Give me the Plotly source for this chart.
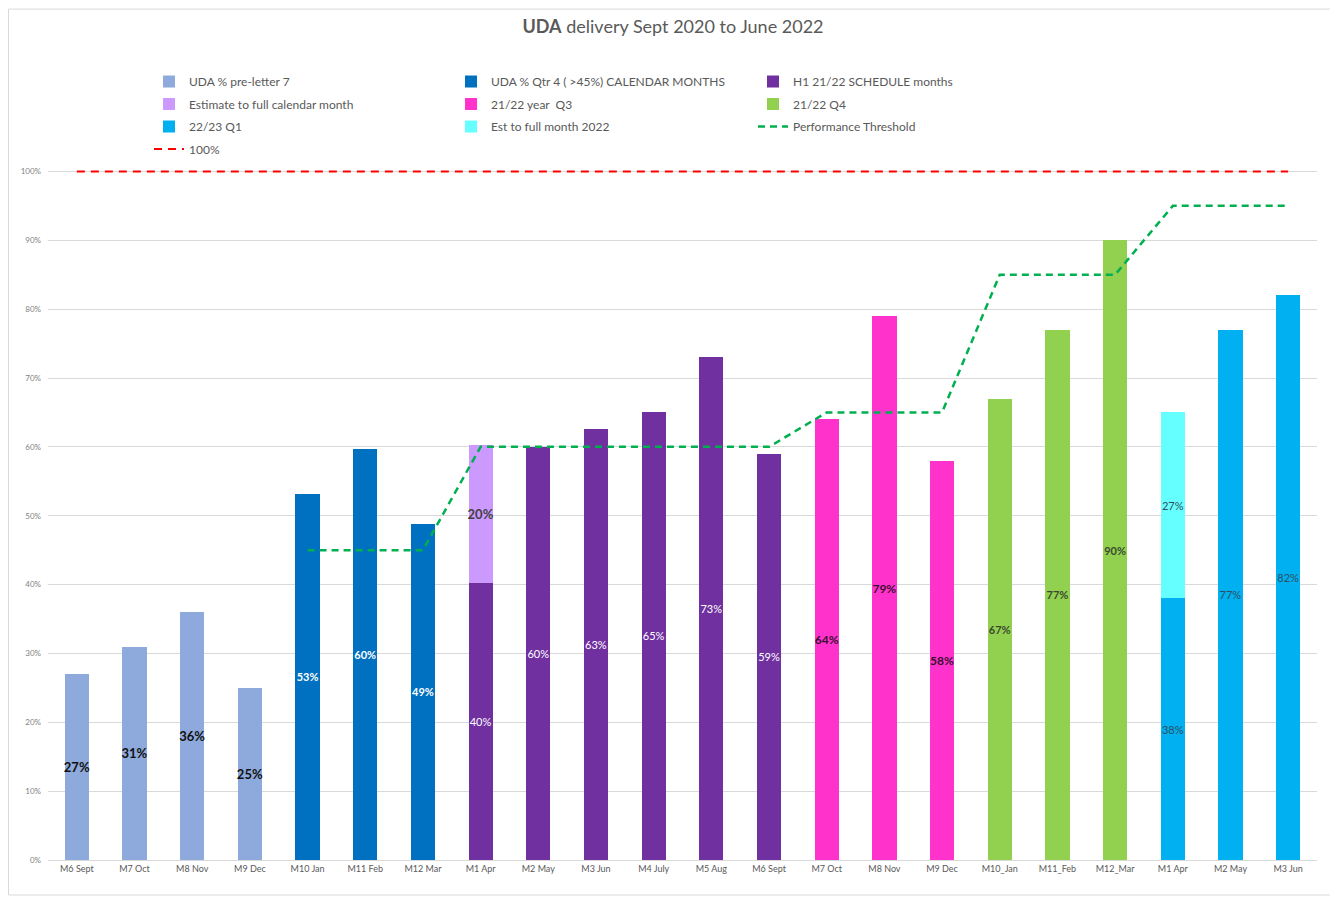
import plotly.graph_objects as go

categories = ["M6 Sept", "M7 Oct", "M8 Nov", "M9 Dec", "M10 Jan", "M11 Feb", "M12 Mar",
              "M1 Apr", "M2 May", "M3 Jun", "M4 July", "M5 Aug", "M6 Sept",
              "M7 Oct", "M8 Nov", "M9 Dec", "M10_Jan", "M11_Feb", "M12_Mar",
              "M1 Apr", "M2 May", "M3 Jun"]
xpos = list(range(len(categories)))

pre_letter7 = [27, 31, 36, 25]
qtr4 = [53.2, 59.7, 48.8]
h1_schedule = [40.3, 60, 62.6, 65.1, 73, 59]
estimate_full = [20]
q3_2122 = [64, 79, 58]
q4_2122 = [67, 77, 90]
q1_2223 = [38, 77, 82]
est_2022 = [27]
threshold = [None, None, None, None, 45, 45, 45, 60, 60, 60, 60, 60, 60,
             65, 65, 65, 85, 85, 85, 95, 95, 95]
hundred = [100] * len(categories)

FONT = "Lato"
fig = go.Figure()

def bar(name, xs, ys, color, tcolor, tsize, bold, legend, group):
    tmpl = "<b>%{y:.0f}%</b>" if bold else "%{y:.0f}%"
    fig.add_trace(go.Bar(
        name=name, x=xs, y=ys, marker=dict(color=color, line=dict(width=0)),
        width=0.42, texttemplate=tmpl, textposition="inside",
        insidetextanchor="middle", textangle=0, constraintext="none",
        textfont=dict(color=tcolor, size=tsize, family=FONT),
        legend=legend, legendgroup=group, hoverinfo="skip"))

# trace order sets stacking order (bottom first)
bar("UDA % pre-letter 7", xpos[0:4], pre_letter7, "#8EA9DB", "#111111", 13, True, "legend", "a")
bar("UDA % Qtr 4 ( >45%) CALENDAR MONTHS", xpos[4:7], qtr4, "#0070C0", "#FFFFFF", 11, True, "legend2", "d")
bar("H1 21/22 SCHEDULE months", xpos[7:13], h1_schedule, "#7030A0", "#FFFFFF", 11, False, "legend3", "g")
bar("Estimate to full calendar month", xpos[7:8], estimate_full, "#CC99FF", "#404040", 13, True, "legend", "b")
bar("21/22 year  Q3", xpos[13:16], q3_2122, "#FF33CC", "#3A1030", 12, True, "legend2", "e")
bar("21/22 Q4", xpos[16:19], q4_2122, "#92D050", "#3A4A30", 11, True, "legend3", "h")
bar("22/23 Q1", xpos[19:22], q1_2223, "#00B0F0", "#2F4F5F", 11, False, "legend", "c")
bar("Est to full month 2022", xpos[19:20], est_2022, "#66FFFF", "#2F4F5F", 11, False, "legend2", "f")

fig.add_trace(go.Scatter(name="Performance Threshold", x=xpos, y=threshold, mode="lines",
                         line=dict(color="#00B050", width=2.5, dash="7px,5px"),
                         legend="legend3", legendgroup="i", hoverinfo="skip"))
fig.add_trace(go.Scatter(name="100%", x=xpos, y=hundred, mode="lines",
                         line=dict(color="#FF0000", width=2, dash="8px,6px"),
                         legend="legend", legendgroup="j", hoverinfo="skip"))

leg_common = dict(orientation="v", yanchor="top", xanchor="left", traceorder="grouped",
                  tracegroupgap=3.5, font=dict(family=FONT, size=12, color="#595959"),
                  bgcolor="rgba(0,0,0,0)", itemclick=False)

# page body adds an 8px margin, so the figure is 8px smaller than the window
YMAX = 100.5
PH = 689 * YMAX / 100          # plot height in px
TOP = 852 - PH                 # figure-px top of plot area
ly = (852 - 58.5) / PH

fig.update_layout(
    width=1330, height=890,
    barmode="stack",
    paper_bgcolor="white", plot_bgcolor="white",
    margin=dict(l=40, r=21, t=TOP, b=38),
    title=dict(text="<b>UDA</b> delivery Sept 2020 to June 2022", x=0.5, xanchor="center",
               y=1 - 19 / 890, yanchor="middle",
               font=dict(family=FONT, size=18, color="#595959")),
    legend=dict(x=(149 - 48) / 1269, y=ly, **leg_common),
    legend2=dict(x=(451 - 48) / 1269, y=ly, **leg_common),
    legend3=dict(x=(753 - 48) / 1269, y=ly, **leg_common),
    xaxis=dict(range=[-0.5, len(categories) - 0.5], tickmode="array", tickvals=xpos,
               ticktext=categories, showgrid=False, zeroline=False, showline=True,
               linecolor="#D9D9D9", ticks="",
               tickfont=dict(family=FONT, size=9, color="#595959")),
    yaxis=dict(range=[0, YMAX], dtick=10, ticksuffix="%", showgrid=True,
               gridcolor="#D9D9D9", zeroline=False, showline=False,
               ticklabelstandoff=6,
               tickfont=dict(family=FONT, size=8, color="#7F7F7F")),
    font=dict(family=FONT),
    shapes=[dict(type="rect", xref="paper", yref="paper",
                 x0=(0.5 - 40) / 1269, x1=(1323 - 40) / 1269,
                 y0=(852 - 887) / PH, y1=(852 - 0.5) / PH,
                 line=dict(color="#D9D9D9", width=1), fillcolor="rgba(0,0,0,0)", layer="below")],
)

fig.write_html("out.html")
